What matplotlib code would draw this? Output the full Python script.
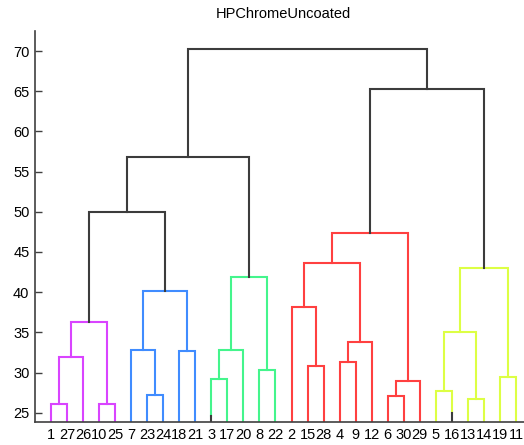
import numpy as np
import matplotlib
matplotlib.use("Agg")
import matplotlib.pyplot as plt

plt.rcParams["font.family"] = ["Liberation Sans", "DejaVu Sans"]

# leaf labels in display order
leaf_labels = ["1", "27", "26", "10", "25", "7", "23", "24", "18", "21",
               "3", "17", "20", "8", "22", "2", "15", "28", "4", "9",
               "12", "6", "30", "29", "5", "16", "13", "14", "19", "11"]

# merges: (child a, child b, height); children < 30 are leaves, >= 30 earlier merges
merge_a = [0, 30, 3, 31, 6, 5, 8, 35, 33, 10, 39, 13, 40, 38,
           16, 15, 18, 46, 45, 21, 49, 48, 24, 26, 52, 28, 54, 51, 43]
merge_b = [1, 2, 4, 32, 7, 34, 9, 36, 37, 11, 12, 14, 41, 42,
           17, 44, 19, 20, 47, 22, 23, 50, 25, 27, 53, 29, 55, 56, 57]
merge_h = [26.1, 31.95, 26.1, 36.3, 27.25, 32.8, 32.7, 40.2, 50.0, 29.25, 32.8, 30.35, 41.85, 56.8,
           30.8, 38.1, 31.3, 33.8, 43.6, 27.1, 29.0, 47.3, 27.75, 26.7, 35.1, 29.4, 43.0, 65.3, 70.25]

# leaves that are collapsed subclusters (black stub at the bottom)
stub_leaf = [10, 25]
stub_h = [24.6, 25.0]

threshold = 0.7 * max(merge_h)
cluster_colors = ["#D944FF", "#408CFF", "#44F58C", "#FF4040", "#DDFF44"]
above_color = "#3c3c3c"

n = len(leaf_labels)
xpos = {i: i + 1.0 for i in range(n)}
hpos = {i: 0.0 for i in range(n)}
for k, s in enumerate(stub_leaf):
    hpos[s] = stub_h[k]
for k, (a, b, h) in enumerate(zip(merge_a, merge_b, merge_h)):
    xpos[n + k] = (xpos[a] + xpos[b]) / 2
    hpos[n + k] = h

# assign colours top-down, clusters numbered left to right
node_color = {}
roots = []


def walk(node, col):
    if node < n:
        node_color[node] = col
        return
    k = node - n
    h = merge_h[k]
    if col is None and h < threshold:
        roots.append(node)
        col = len(roots) - 1
    node_color[node] = col
    walk(merge_a[k], col)
    walk(merge_b[k], col)


walk(n + len(merge_h) - 1, None)

fig = plt.figure(figsize=(5.24, 4.45), dpi=100)
ax = fig.add_axes([35 / 524, 23 / 445, 497 / 524, 391 / 445])

for k, (a, b, h) in enumerate(zip(merge_a, merge_b, merge_h)):
    c = node_color[n + k]
    color = above_color if c is None else cluster_colors[c]
    xs = [xpos[a], xpos[a], xpos[b], xpos[b]]
    ys = [hpos[a], h, h, hpos[b]]
    ax.plot(xs, ys, color=color, linewidth=1.5, solid_joinstyle="miter")

for k, s in enumerate(stub_leaf):
    ax.plot([xpos[s], xpos[s]], [0, stub_h[k]], color=above_color, linewidth=1.5)

ax.set_xlim(0, n + 1)
ax.set_ylim(23.84, 72.5)
ax.set_xticks(np.arange(1, n + 1))
ax.set_xticklabels(leaf_labels, fontsize=10.5)
ax.set_yticks(np.arange(25, 71, 5))
ax.tick_params(axis="y", direction="in", length=5, width=1, color="#404040", labelsize=10.5, pad=4)
ax.tick_params(axis="x", length=0, pad=4)
for side in ["top", "right"]:
    ax.spines[side].set_visible(False)
for side in ["left", "bottom"]:
    ax.spines[side].set_color("#404040")
    ax.spines[side].set_linewidth(1.2)
ax.set_title("HPChromeUncoated", fontsize=10.5, pad=9)

fig.savefig("out.png", dpi=100)
